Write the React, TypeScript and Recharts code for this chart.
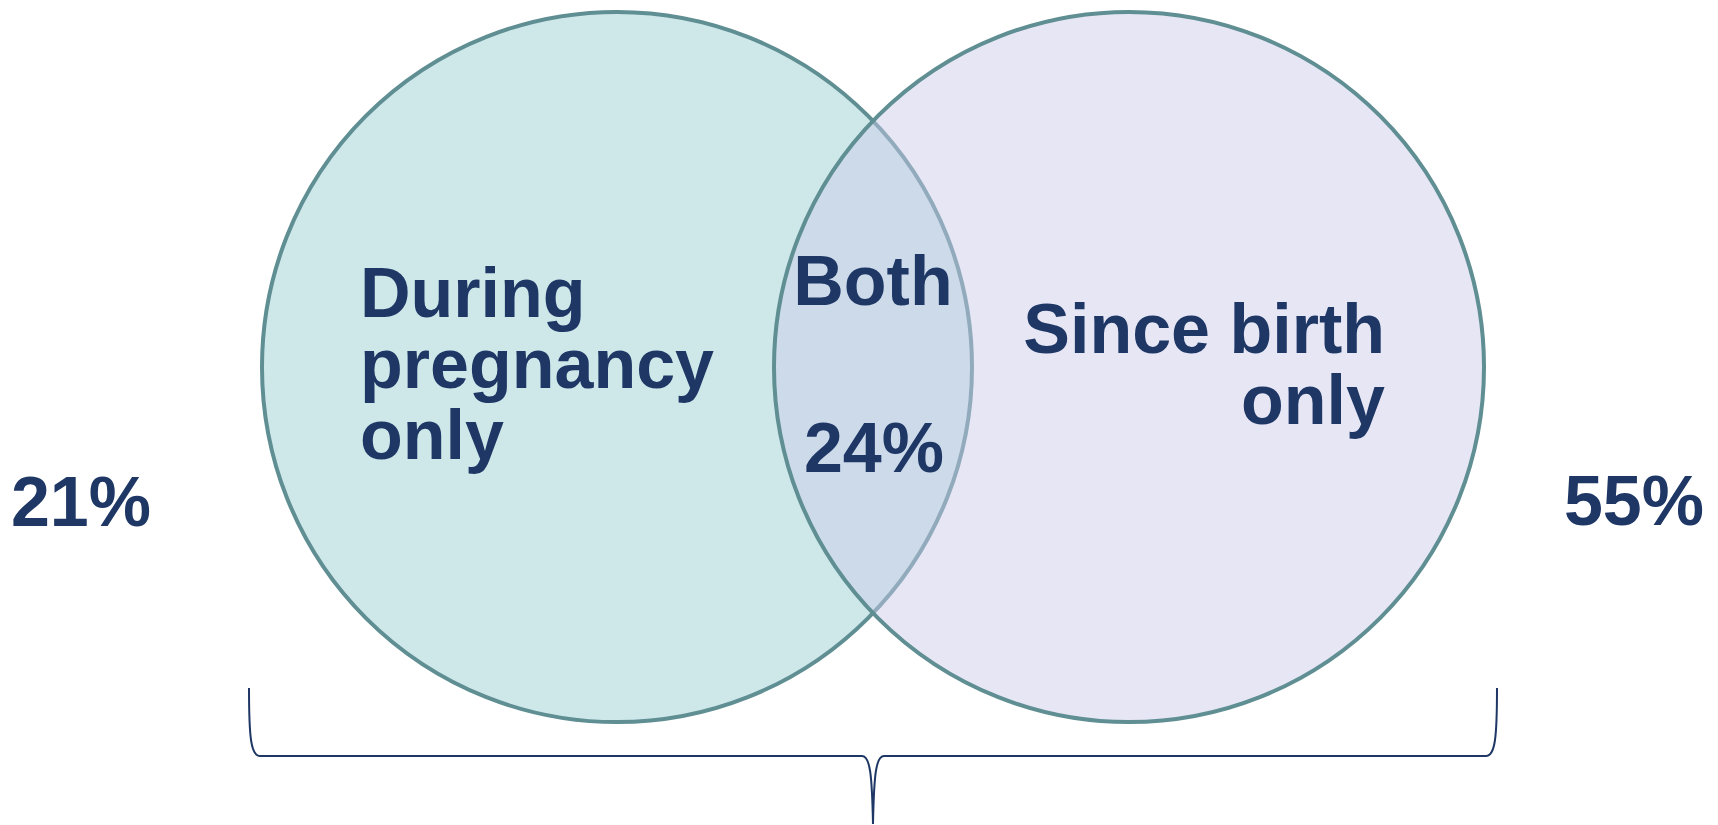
import React from "react";
import {
  ScatterChart,
  Scatter,
  XAxis,
  YAxis,
  ZAxis,
  ReferenceLine,
} from "recharts";

// Venn data: two sets, three regions (share of respondents, %)
const setNames = ["During pregnancy", "Since birth"];
const regionNames = ["During\npregnancy\nonly", "Both", "Since birth\nonly"];
const regionShares = [21, 24, 55];

// layout (chart units = page pixels, y grows downwards)
const W = 1718;
const H = 825;
const R = 355;
const circleCentres = [
  { x: 617, y: 367 },
  { x: 1129, y: 367 },
];
const nameLabelPos = [
  { x: 360, y: 317, anchor: "start" },
  { x: 873, y: 305, anchor: "middle" },
  { x: 1385, y: 353, anchor: "end" },
];
const shareLabelPos = [
  { x: 81, y: 526, anchor: "middle" },
  { x: 874, y: 472, anchor: "middle" },
  { x: 1634, y: 525, anchor: "middle" },
];
const braceEnds = [
  { x: 249, y: 756 },
  { x: 1497, y: 756 },
];

const navy = "#1E3765";
const outline = "#5F8E93";
const fontFamily = "'Liberation Sans', Arial, sans-serif";
const LINE = 71;

const leftData = [{ ...circleCentres[0], z: 1, name: setNames[0] }];
const rightData = [{ ...circleCentres[1], z: 1, name: setNames[1] }];

const labelData = [
  ...regionNames.map((n, i) => ({
    ...nameLabelPos[i],
    z: 1,
    lines: n.split("\n"),
  })),
  ...regionShares.map((v, i) => ({
    ...shareLabelPos[i],
    z: 1,
    lines: [`${v}%`],
  })),
];

function LabelShape(props: any) {
  const { cx, cy, payload } = props;
  return (
    <text
      x={cx}
      y={cy}
      textAnchor={payload.anchor}
      fill={navy}
      fontFamily={fontFamily}
      fontWeight={700}
      fontSize={70}
    >
      {payload.lines.map((l: string, i: number) => (
        <tspan key={i} x={cx} dy={i === 0 ? 0 : LINE}>
          {l}
        </tspan>
      ))}
    </text>
  );
}

function Brace(props: any) {
  const { x1, y1, x2 } = props;
  const y = y1;
  const arm = 68;
  const mid = (x1 + x2) / 2;
  const d = [
    `M${x1},${y - arm}`,
    `C${x1},${y - 18} ${x1 + 2},${y} ${x1 + 11},${y}`,
    `L${mid - 11},${y}`,
    `C${mid - 3},${y} ${mid - 1},${y + 18} ${mid},${y + arm}`,
    `C${mid + 1},${y + 18} ${mid + 3},${y} ${mid + 11},${y}`,
    `L${x2 - 11},${y}`,
    `C${x2 - 2},${y} ${x2},${y - 18} ${x2},${y - arm}`,
  ].join(" ");
  return <path d={d} fill="none" stroke={navy} strokeWidth={2} />;
}

export default function App() {
  const area = Math.PI * R * R;
  return (
    <div style={{ position: "absolute", left: 0, top: 0, width: W, height: H, background: "#fff" }}>
      <ScatterChart width={W} height={H} margin={{ top: 0, right: 0, bottom: 0, left: 0 }}>
        <XAxis type="number" dataKey="x" domain={[0, W]} hide />
        <YAxis type="number" dataKey="y" domain={[0, H]} reversed hide />
        <ZAxis type="number" dataKey="z" range={[area, area]} />
        <Scatter
          data={leftData}
          shape="circle"
          fill="#CEE8EA"
          stroke={outline}
          strokeWidth={4}
          isAnimationActive={false}
        />
        <Scatter
          data={rightData}
          shape="circle"
          fill="rgb(203,203,234)"
          fillOpacity={0.48}
          stroke={outline}
          strokeWidth={4}
          isAnimationActive={false}
        />
        <ReferenceLine segment={braceEnds} shape={<Brace />} ifOverflow="visible" />
        <Scatter data={labelData} shape={<LabelShape />} isAnimationActive={false} />
      </ScatterChart>
    </div>
  );
}
